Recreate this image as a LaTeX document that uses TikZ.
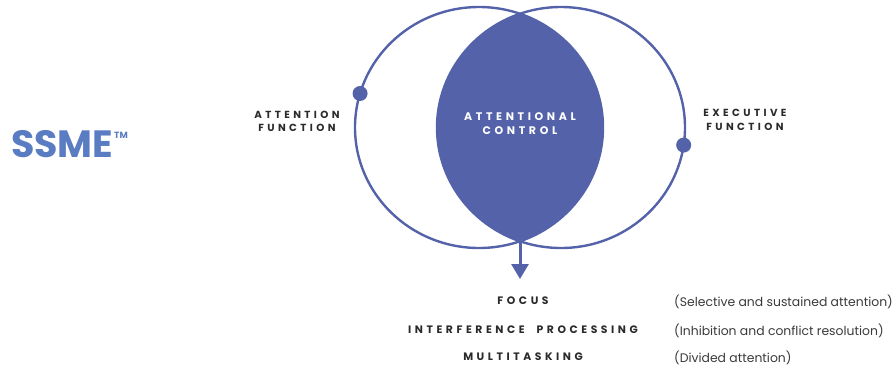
\documentclass[tikz,border=0pt]{standalone}
\usepackage{fontspec}
\setmainfont{Poppins}
\newfontfamily\capsfont[LetterSpace=33]{Poppins}
\usetikzlibrary{arrows.meta,calc}
\definecolor{ssblue}{HTML}{5462A9}
\definecolor{logoblue}{HTML}{5A7CC2}
\definecolor{captext}{HTML}{2A2A2A}
\definecolor{desctext}{HTML}{3A3A3A}
\begin{document}
\begin{tikzpicture}[x=1pt,y=-1pt,
  caplabel/.style={font=\capsfont\bfseries\fontsize{10.3}{13.5}\selectfont, text=captext, align=center, inner sep=0pt},
  desc/.style={font=\fontsize{12.4}{13}\selectfont, text=desctext, anchor=west, inner sep=0pt},
  ring/.style={draw=ssblue, line width=2.4pt},
  dot/.style={circle, fill=ssblue, inner sep=0pt, minimum size=15pt}]
\useasboundingbox (0,0) rectangle (896,370);
% lens
\begin{scope}
  \clip (479,127.5) ellipse [x radius=124, y radius=120.5];
  \fill[ssblue] (561,127.5) ellipse [x radius=124, y radius=120.5];
\end{scope}
\draw[ring] (479,127.5) ellipse [x radius=124, y radius=120.5];
\draw[ring] (561,127.5) ellipse [x radius=124, y radius=120.5];
% points
\coordinate (lenstop) at (520,13.8);
\coordinate (lensbot) at (520,240);
\coordinate (arrowend) at (520,279);
\node[dot] (ldot) at ($(479,127.5)+(196.4:124 and 120.5)$) {};
\node[dot] (rdot) at ($(561,127.5)+(8.4:124 and 120.5)$) {};
\draw[ssblue, line width=3pt, -{Triangle[width=17pt,length=15pt]}] (lensbot) -- (arrowend);
% logo
\node[anchor=west, inner sep=0pt, text=logoblue, font=\bfseries\fontsize{38}{40}\selectfont] (logo) at (11,144) {SSME};
\node[anchor=west, inner sep=0pt, text=logoblue, font=\bfseries\fontsize{9}{10}\selectfont] (tm) at (114,135) {TM};
% labels
\node[caplabel] (attn) at (297,121.5) {ATTENTION\\FUNCTION};
\node[caplabel, text=white, font=\capsfont\bfseries\fontsize{11}{14}\selectfont] (ctrl) at (520,123.5) {ATTENTIONAL\\CONTROL};
\node[caplabel] (exec) at (745,120) {EXECUTIVE\\FUNCTION};
\node[caplabel, font=\capsfont\bfseries\fontsize{10.8}{13.5}\selectfont] (focus) at (523,301) {FOCUS};
\node[caplabel, font=\capsfont\bfseries\fontsize{10.8}{13.5}\selectfont] (interf) at (523,330) {INTERFERENCE\hspace{6pt} PROCESSING};
\node[caplabel, font=\capsfont\bfseries\fontsize{10.8}{13.5}\selectfont] (multi) at (523,357) {MULTITASKING};
\node[desc] (dfocus) at (674,301.5) {(Selective and sustained attention)};
\node[desc] (dinterf) at (674,330.5) {(Inhibition and conflict resolution)};
\node[desc] (dmulti) at (674,357.5) {(Divided attention)};
\end{tikzpicture}
\end{document}
